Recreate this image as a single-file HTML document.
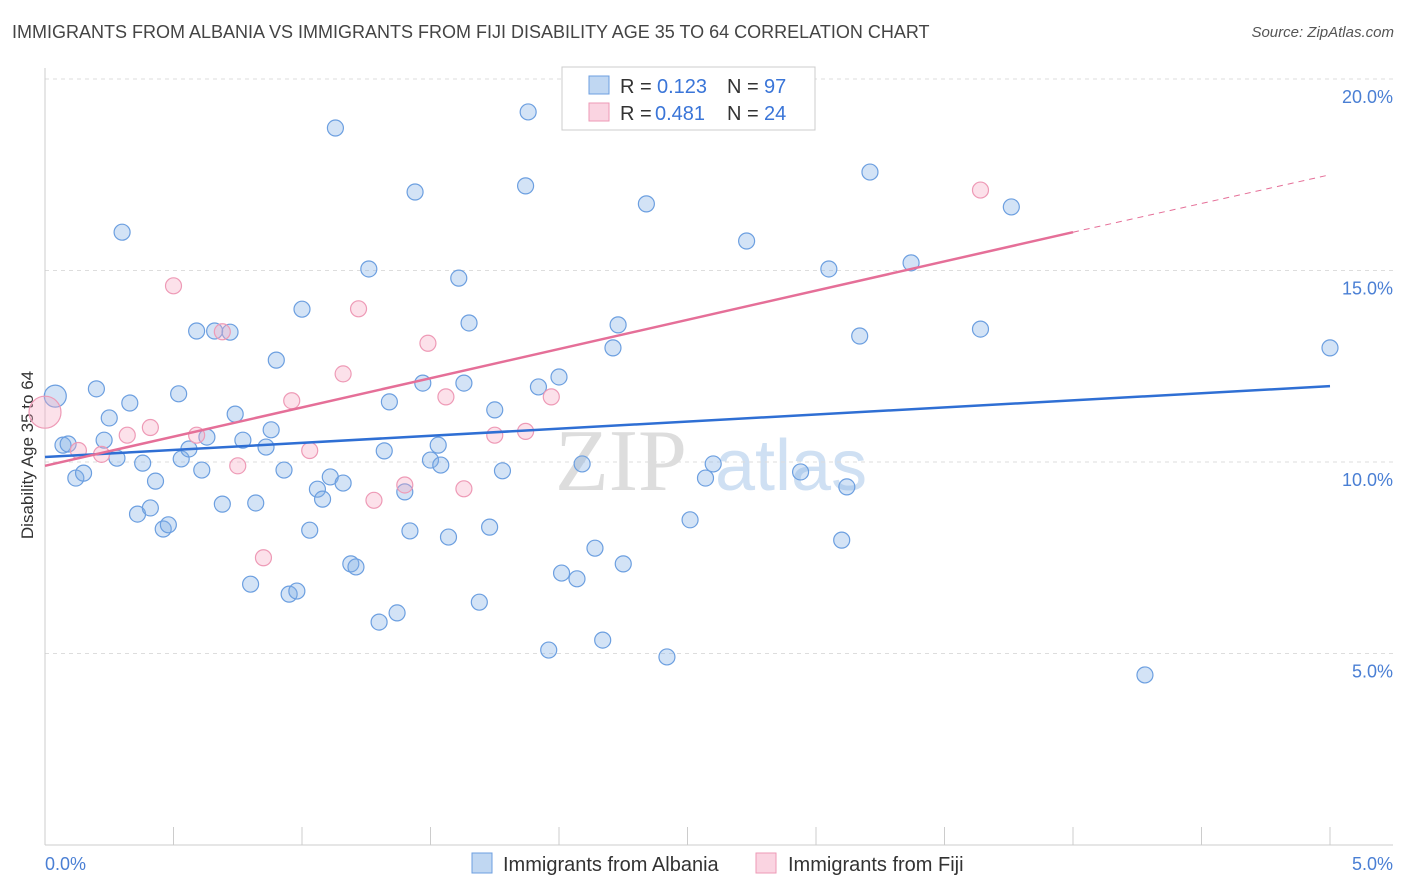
<!DOCTYPE html>
<html><head><meta charset="utf-8">
<style>
body{margin:0;background:#fff;font-family:"Liberation Sans",sans-serif;}
#wrap{position:relative;width:1406px;height:892px;overflow:hidden;}
.t{position:absolute;white-space:nowrap;}
</style></head>
<body>
<div id="wrap">
<div class="t" style="left:12px;top:22px;font-size:18px;color:#444;">IMMIGRANTS FROM ALBANIA VS IMMIGRANTS FROM FIJI DISABILITY AGE 35 TO 64 CORRELATION CHART</div>
<div class="t" style="right:12px;top:24px;font-size:15px;color:#555;font-style:italic;">Source: ZipAtlas.com</div>
<svg id="chart" width="1406" height="892" style="position:absolute;left:0;top:0"></svg>
</div>
<script>
const yTicks=[5,10,15,20];
const xTickLabels=["0.0%","5.0%"];
const albaniaX=[0.04,0.07,0.09,0.12,0.15,0.20,0.23,0.25,0.28,0.30,0.33,0.36,0.38,0.41,0.43,0.46,0.48,0.52,0.53,0.56,0.59,0.61,0.63,0.66,0.69,0.72,0.74,0.77,0.80,0.82,0.86,0.88,0.90,0.93,0.95,0.98,1.00,1.03,1.06,1.08,1.11,1.13,1.16,1.19,1.21,1.26,1.30,1.32,1.34,1.37,1.40,1.42,1.44,1.47,1.50,1.53,1.54,1.57,1.61,1.63,1.65,1.69,1.73,1.75,1.78,1.87,1.88,1.92,1.96,2.00,2.01,2.07,2.09,2.14,2.17,2.21,2.23,2.25,2.34,2.42,2.51,2.57,2.60,2.73,2.94,3.05,3.10,3.12,3.17,3.21,3.37,3.64,3.76,4.28,5.00];
const albaniaY=[11.72,10.44,10.47,9.58,9.71,11.91,10.57,11.15,10.10,16.0,11.54,8.64,9.97,8.80,9.50,8.25,8.36,11.78,10.08,10.34,13.42,9.79,10.65,13.42,8.90,13.39,11.25,10.57,6.81,8.93,10.39,10.84,12.66,9.79,6.55,6.63,13.99,8.22,9.29,9.03,9.61,18.72,9.45,7.34,7.26,15.04,5.82,10.29,11.57,6.06,9.22,8.20,17.05,12.06,10.05,10.44,9.92,8.04,14.80,12.06,13.63,6.34,8.30,11.36,9.77,17.21,19.14,11.96,5.09,12.22,7.10,6.95,9.95,7.75,5.35,12.98,13.58,7.34,16.74,4.91,8.49,9.58,9.95,15.77,9.74,15.04,7.96,9.35,13.29,17.57,15.20,13.47,16.66,4.44,12.98];
const fijiX=[0.0,0.13,0.22,0.32,0.41,0.5,0.59,0.69,0.75,0.85,0.96,1.03,1.16,1.22,1.28,1.4,1.49,1.56,1.63,1.75,1.87,1.97,3.64];
const fijiY=[11.3,10.3,10.2,10.7,10.9,14.6,10.7,13.4,9.9,7.5,11.6,10.3,12.3,14.0,9.0,9.4,13.1,11.7,9.3,10.7,10.8,11.7,17.1];
const trendA=[10.13,11.98];
const trendF=[9.9,16.0,17.5];

const svg=document.getElementById('chart');
const NS='http://www.w3.org/2000/svg';
const X0=45,X1=1330,YB=845,PXPER=38.3;
const sx=v=>X0+(X1-X0)*v/5;
const sy=v=>YB-v*PXPER;
function mk(tag,attrs,name,inter){const e=document.createElementNS(NS,tag);for(const k in attrs)e.setAttribute(k,attrs[k]);


svg.appendChild(e);return e;}
let wm=mk('text',{x:555,y:490,'font-size':88,fill:'#ddd','font-family':'Liberation Serif, serif'},'watermark-zip');wm.textContent='ZIP';
let wm2=mk('text',{x:715,y:490,'font-size':72,fill:'#cfe0f3','font-family':'Liberation Sans, sans-serif'},'watermark-atlas');wm2.textContent='atlas';
yTicks.forEach(v=>{mk('line',{x1:X0,x2:1393,y1:sy(v),y2:sy(v),stroke:'#ddd','stroke-dasharray':'4,4'},'grid-line');
let t=mk('text',{x:1393,y:sy(v)+24,'text-anchor':'end','font-size':18,fill:'#4a7fd4'},'y-tick-label');t.textContent=v.toFixed(1)+'%';});
mk('line',{x1:X0,x2:X0,y1:68,y2:YB,stroke:'#ccc'},'y-axis-line');
mk('line',{x1:X0,x2:1393,y1:YB,y2:YB,stroke:'#ccc'},'x-axis-line');
for(let i=0;i<=10;i++){mk('line',{x1:sx(i*0.5),x2:sx(i*0.5),y1:827,y2:YB,stroke:'#ccc'},'x-tick');}
let xl=mk('text',{x:45,y:870,'font-size':18,fill:'#4a7fd4'},'x-tick-label');xl.textContent=xTickLabels[0];
let xr=mk('text',{x:1393,y:870,'text-anchor':'end','font-size':18,fill:'#4a7fd4'},'x-tick-label');xr.textContent=xTickLabels[1];
let yt=mk('text',{x:0,y:0,'font-size':17,fill:'#333',transform:'translate(33,455) rotate(-90)','text-anchor':'middle'},'y-axis-title');yt.textContent='Disability Age 35 to 64';
albaniaX.forEach((x,i)=>{const big=i===0;mk('circle',{cx:sx(x),cy:sy(albaniaY[i]),r:big?11:8,fill:'rgba(130,175,230,0.35)',stroke:'#6c9fe0','stroke-width':1.2},'albania-point');});
fijiX.forEach((x,i)=>{const big=i===0;mk('circle',{cx:sx(x),cy:sy(fijiY[i]),r:big?16:8,fill:'rgba(245,170,195,0.35)',stroke:'#ee9ab6','stroke-width':1.2},'fiji-point');});
mk('line',{x1:sx(0),y1:sy(trendA[0]),x2:sx(5),y2:sy(trendA[1]),stroke:'#2f6fd4','stroke-width':2.5},'albania-trend-line');
mk('line',{x1:sx(0),y1:sy(trendF[0]),x2:sx(4),y2:sy(trendF[1]),stroke:'#e56f98','stroke-width':2.5},'fiji-trend-line');
mk('line',{x1:sx(4),y1:sy(trendF[1]),x2:sx(5),y2:sy(trendF[2]),stroke:'#e56f98','stroke-width':1,'stroke-dasharray':'6,5'},'fiji-trend-extension');
mk('rect',{x:562,y:67,width:253,height:63,fill:'#fff',stroke:'#ccc'},'legend-box');
mk('rect',{x:589,y:76,width:20,height:18,fill:'rgba(130,175,230,0.5)',stroke:'#6c9fe0'},'legend-swatch-albania');
mk('rect',{x:589,y:103,width:20,height:18,fill:'rgba(245,170,195,0.5)',stroke:'#ee9ab6'},'legend-swatch-fiji');
function lt(x,y,s,c,n){let t=mk('text',{x:x,y:y,'font-size':20,fill:c},n);t.textContent=s;}
lt(620,93,'R = ','#333','legend-r-label');lt(657,93,'0.123','#3a75d8','legend-r-albania');
lt(727,93,'N = ','#333','legend-n-label');lt(764,93,'97','#3a75d8','legend-n-albania');
lt(620,120,'R = ','#333','legend-r-label');lt(655,120,'0.481','#3a75d8','legend-r-fiji');
lt(727,120,'N = ','#333','legend-n-label');lt(764,120,'24','#3a75d8','legend-n-fiji');
mk('rect',{x:472,y:853,width:20,height:20,fill:'rgba(130,175,230,0.5)',stroke:'#6c9fe0'},'bottom-legend-swatch-albania');
lt(503,871,'Immigrants from Albania','#333','bottom-legend-albania');
mk('rect',{x:756,y:853,width:20,height:20,fill:'rgba(245,170,195,0.5)',stroke:'#ee9ab6'},'bottom-legend-swatch-fiji');
lt(788,871,'Immigrants from Fiji','#333','bottom-legend-fiji');
</script>
</body></html>
